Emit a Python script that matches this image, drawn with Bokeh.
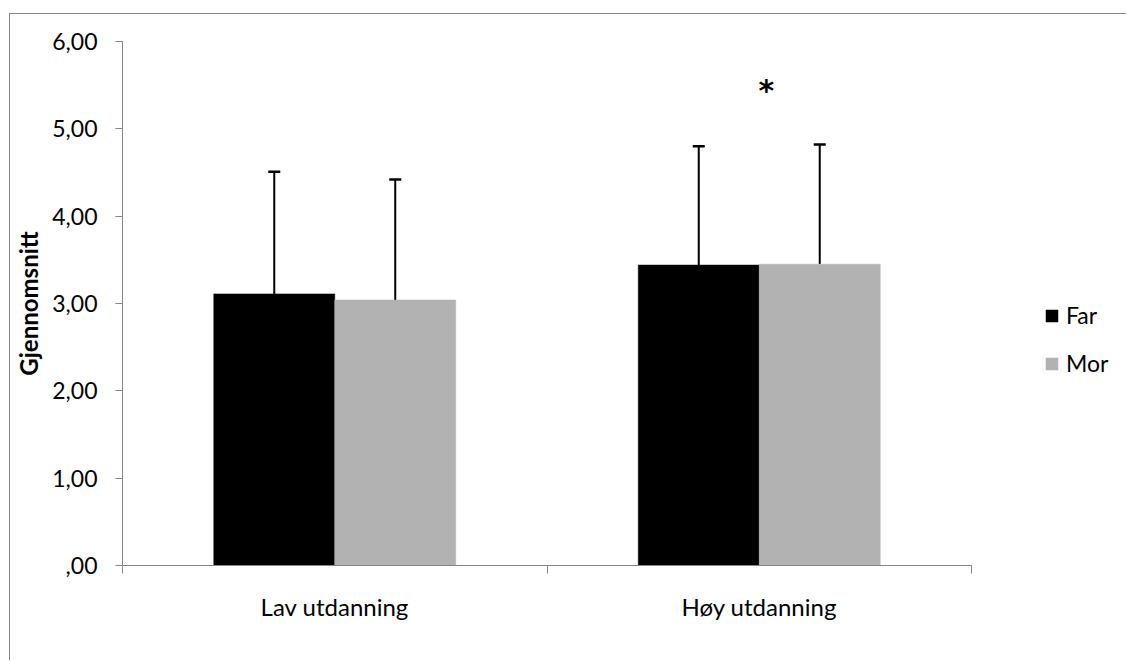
from bokeh.plotting import figure
from bokeh.models import (ColumnDataSource, FixedTicker, Range1d, Whisker, TeeHead, Legend)
from bokeh.core.properties import value
from bokeh.embed import file_html
from bokeh.resources import INLINE

categories = ["Lav utdanning", "Høy utdanning"]
series = ["Far", "Mor"]
far_values = [3.11, 3.44]
mor_values = [3.04, 3.45]
far_sd = [1.40, 1.36]
mor_sd = [1.38, 1.37]
y_ticks = [0, 1, 2, 3, 4, 5, 6]
y_tick_labels = [",00", "1,00", "2,00", "3,00", "4,00", "5,00", "6,00"]
star_category = "Høy utdanning"
star_y = 5.44

FONT = "Lato"
BAR_W = 0.285
N = len(categories)
# the plot frame runs to the right edge of the page; the x axis line stops at N
X_END = N * (1005 / 849)

centers = [i + 0.5 for i in range(N)]
far_x = [c - BAR_W / 2 for c in centers]
mor_x = [c + BAR_W / 2 for c in centers]

far_src = ColumnDataSource(dict(x=far_x, top=far_values,
                                upper=[v + s for v, s in zip(far_values, far_sd)]))
mor_src = ColumnDataSource(dict(x=mor_x, top=mor_values,
                                upper=[v + s for v, s in zip(mor_values, mor_sd)]))

p = figure(width=1117, height=647, output_backend="svg", toolbar_location=None,
           x_range=Range1d(0, X_END), y_range=Range1d(0, 6),
           min_border_left=112, min_border_top=27, min_border_right=0,
           min_border_bottom=96)
p.styles = {"border-left": "1px solid #868686", "border-top": "1px solid #868686",
            "margin-left": "9px", "margin-top": "13px"}
p.outline_line_color = None
p.background_fill_color = "white"
p.border_fill_color = "white"
p.xgrid.visible = False
p.ygrid.visible = False

r_far = p.vbar(x="x", top="top", bottom=0, width=BAR_W, source=far_src,
               fill_color="black", line_color="black", line_width=0.5)
r_mor = p.vbar(x="x", top="top", bottom=0, width=BAR_W, source=mor_src,
               fill_color="#b2b2b2", line_color="#b2b2b2", line_width=0.5)

for src in (far_src, mor_src):
    w = Whisker(base="x", lower="top", upper="upper", source=src, dimension="height",
                line_color="black", line_width=2, lower_head=None,
                upper_head=TeeHead(size=12, line_color="black", line_width=2.5))
    p.add_layout(w)

star_x = [centers[categories.index(star_category)]]
p.text(x=star_x, y=[star_y], text=["*"], text_font=value("DejaVu Sans"),
       text_font_style="bold", text_font_size="30px", text_align="center",
       text_baseline="middle", x_offset=7, text_color="black")

# axes
ax = p.yaxis[0]
ax.ticker = FixedTicker(ticks=y_ticks)
ax.major_label_overrides = {t: l for t, l in zip(y_ticks, y_tick_labels)}
ax.axis_line_color = "#868686"
ax.major_tick_line_color = "#868686"
ax.major_tick_out = 7
ax.major_tick_in = 0
ax.minor_tick_line_color = None
ax.major_label_standoff = 18
ax.major_label_text_font = FONT
ax.major_label_text_font_size = "23px"
ax.major_label_text_color = "black"
ax.axis_label = "Gjennomsnitt"
ax.axis_label_text_font = FONT
ax.axis_label_text_font_style = "bold"
ax.axis_label_text_font_size = "24px"
ax.axis_label_text_color = "black"
ax.axis_label_standoff = 6

xa = p.xaxis[0]
xa.bounds = (0, N)
xa.ticker = FixedTicker(ticks=centers, minor_ticks=list(range(N + 1)))
xa.major_label_overrides = {c: n for c, n in zip(centers, categories)}
xa.axis_line_color = "#868686"
xa.major_tick_line_color = None
xa.major_tick_out = 0
xa.major_tick_in = 0
xa.minor_tick_line_color = "#868686"
xa.minor_tick_out = 8
xa.minor_tick_in = 0
xa.major_label_standoff = 18
xa.major_label_text_font = FONT
xa.major_label_text_font_size = "24px"
xa.major_label_text_color = "black"

legend = Legend(items=[(series[0], [r_far]), (series[1], [r_mor])],
                location=(922, 188), border_line_color=None, background_fill_alpha=0,
                padding=0, margin=0, spacing=20, glyph_width=15, glyph_height=15,
                label_standoff=7, label_text_font=FONT, label_text_font_size="23px",
                label_text_color="black")
p.add_layout(legend)

open("out.html", "w").write(file_html(p, INLINE))
